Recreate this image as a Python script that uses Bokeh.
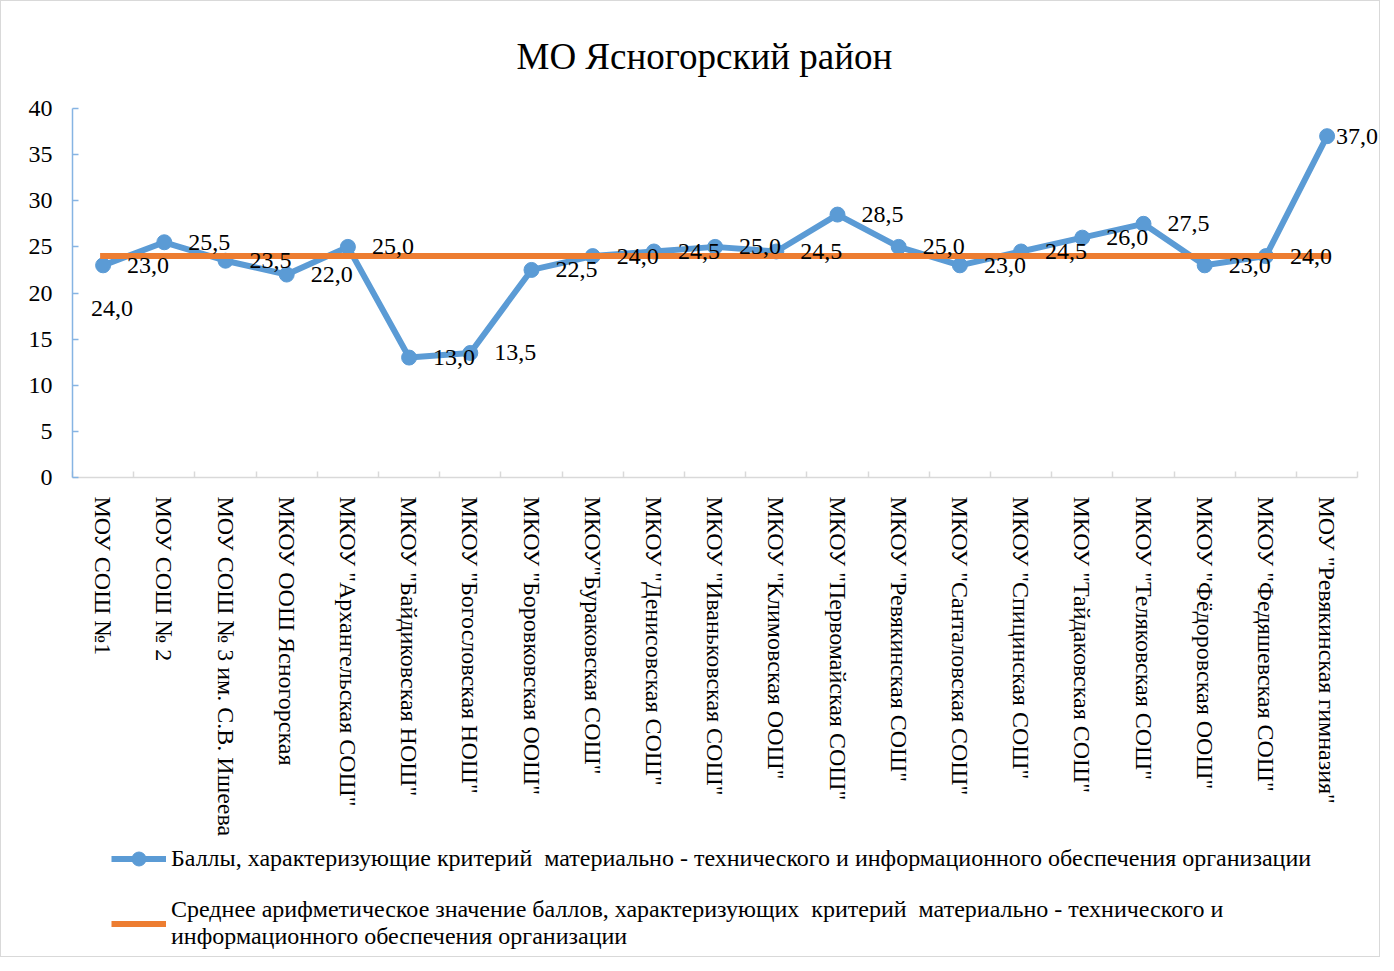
from bokeh.plotting import figure
from bokeh.layouts import column
from bokeh.models import (Range1d, FixedTicker, Legend, LegendItem, ColumnDataSource)
from bokeh.core.properties import value
from bokeh.embed import file_html
from bokeh.resources import INLINE

title_text = "МО Ясногорский район"

categories = [
    "МОУ СОШ №1",
    "МОУ СОШ № 2",
    "МОУ СОШ № 3 им. С.В. Ишеева",
    "МКОУ ООШ Ясногорская",
    "МКОУ \"Архангельская СОШ\"",
    "МКОУ \"Байдиковская НОШ\"",
    "МКОУ \"Богословская НОШ\"",
    "МКОУ \"Боровковская ООШ\"",
    "МКОУ\"Бураковская СОШ\"",
    "МКОУ \"Денисовская СОШ\"",
    "МКОУ \"Иваньковская СОШ\"",
    "МКОУ \"Климовская ООШ\"",
    "МКОУ \"Первомайская СОШ\"",
    "МКОУ \"Ревякинская СОШ\"",
    "МКОУ \"Санталовская СОШ\"",
    "МКОУ \"Спицинская СОШ\"",
    "МКОУ \"Тайдаковская СОШ\"",
    "МКОУ \"Теляковская СОШ\"",
    "МКОУ \"Фёдоровская ООШ\"",
    "МКОУ \"Федяшевская СОШ\"",
    "МОУ \"Ревякинская гимназия\"",
]

scores = [23.0, 25.5, 23.5, 22.0, 25.0, 13.0, 13.5, 22.5, 24.0, 24.5, 25.0,
          24.5, 28.5, 25.0, 23.0, 24.5, 26.0, 27.5, 23.0, 24.0, 37.0]

average = [24.0] * len(categories)

y_ticks = [0, 5, 10, 15, 20, 25, 30, 35, 40]

series1_name = "Баллы, характеризующие критерий  материально - технического и информационного обеспечения организации"
series2_name = ("Среднее арифметическое значение баллов, характеризующих  критерий  материально - технического и\n"
                "информационного обеспечения организации")

FONT = "Liberation Serif"
BLUE = "#5B9BD5"
ORANGE = "#ED7D31"

n = len(categories)
idx = list(range(n))
fmt = lambda v: f"{v:.1f}".replace(".", ",")

W = 1378
H1, H2 = 840, 115
FRAME_L, FRAME_T, FRAME_B = 71, 107, 476
STEP = 61.2                      # px per category
x_end = (n - 0.5) + (W - FRAME_L - n * STEP) / STEP

p = figure(width=W, height=H1, output_backend="svg", toolbar_location=None,
           x_range=Range1d(-0.5, x_end), y_range=Range1d(0, 40),
           min_border_left=FRAME_L, min_border_right=0, min_border_top=FRAME_T,
           min_border_bottom=H1 - FRAME_B)
p.xgrid.visible = False
p.ygrid.visible = False
p.outline_line_color = None

p.title.text = title_text
p.title.align = "left"
p.title.offset = 444
p.title.vertical_align = "middle"
p.title.standoff = 62
p.title.text_font = FONT
p.title.text_font_size = "37px"
p.title.text_font_style = "normal"
p.title.text_color = "black"

# axes
p.xaxis.bounds = (-0.5, n - 0.5)
p.xaxis.ticker = FixedTicker(ticks=idx, minor_ticks=[i - 0.5 for i in range(n + 1)])
p.xaxis.major_label_overrides = {i: c for i, c in enumerate(categories)}
p.xaxis.major_label_orientation = "vertical"
p.xaxis.major_tick_line_color = None
p.xaxis.minor_tick_in = 6
p.xaxis.minor_tick_out = 0
p.xaxis.minor_tick_line_color = "#D9D9D9"
p.xaxis.minor_tick_line_width = 1.5
p.xaxis.axis_line_color = "#D9D9D9"
p.xaxis.axis_line_width = 1.5
p.xaxis.major_label_standoff = 13
p.xaxis.major_label_text_font = FONT
p.xaxis.major_label_text_font_size = "24px"
p.xaxis.major_label_text_color = "black"

p.yaxis.ticker = FixedTicker(ticks=y_ticks, minor_ticks=[])
p.yaxis.axis_line_color = "#86B4E3"
p.yaxis.axis_line_width = 1.5
p.yaxis.major_tick_line_color = "#86B4E3"
p.yaxis.major_tick_line_width = 1.5
p.yaxis.major_tick_in = 6
p.yaxis.major_tick_out = 0
p.yaxis.major_label_standoff = 20
p.yaxis.major_label_text_font = FONT
p.yaxis.major_label_text_font_size = "24px"
p.yaxis.major_label_text_color = "black"

src = ColumnDataSource(dict(x=idx, y=scores, lab=[fmt(v) for v in scores],
                            xo=[24] * (n - 1) + [9]))
p.line("x", "y", source=src, line_color=BLUE, line_width=6, line_join="round")
p.scatter("x", "y", source=src, marker="circle", size=15, fill_color=BLUE, line_color=BLUE)
p.line(idx, average, line_color=ORANGE, line_width=6, line_cap="square")

p.text("x", "y", text="lab", source=src, x_offset="xo", text_align="left", text_baseline="middle",
       text_font=value(FONT), text_font_size="24px", text_color="black")
p.text([idx[0]], [average[0]], text=[fmt(average[0])], x_offset=-12, y_offset=52,
       text_align="left", text_baseline="middle",
       text_font=value(FONT), text_font_size="24px", text_color="black")

# legend panel: same-styled key renderers (no visible data) carry the legend glyphs
nan = float("nan")
q = figure(width=W, height=H2, output_backend="svg", toolbar_location=None,
           x_axis_type=None, y_axis_type=None, x_range=Range1d(0, 1), y_range=Range1d(0, 1),
           min_border_left=FRAME_L, min_border_right=0, min_border_top=0, min_border_bottom=0)
q.xgrid.visible = False
q.ygrid.visible = False
q.outline_line_color = None
k1 = q.line([nan], [nan], line_color=BLUE, line_width=6)
k2 = q.scatter([nan], [nan], marker="circle", size=15, fill_color=BLUE, line_color=BLUE)
k3 = q.line([nan], [nan], line_color=ORANGE, line_width=6)

legend = Legend(items=[LegendItem(label=series1_name, renderers=[k1, k2]),
                       LegendItem(label=series2_name, renderers=[k3])],
                location=(39, 6), orientation="vertical",
                label_text_font=FONT, label_text_font_size="24px", label_text_color="black",
                glyph_width=55, glyph_height=35, label_standoff=5, spacing=20,
                padding=0, margin=0, border_line_color=None, background_fill_alpha=0)
q.add_layout(legend, "center")

layout = column(p, q, spacing=0, styles={"border": "1px solid #D9D9D9"})
open("out.html", "w").write(file_html(layout, INLINE))
